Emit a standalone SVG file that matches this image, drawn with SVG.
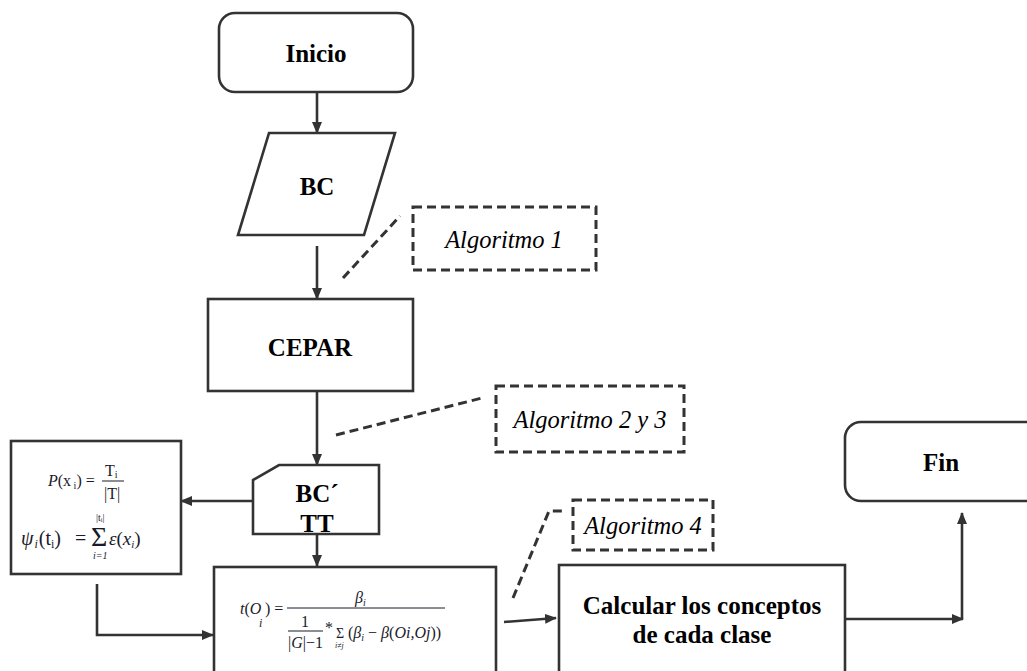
<svg xmlns="http://www.w3.org/2000/svg" width="1027" height="671" viewBox="0 0 1027 671">
<style>
.sh{fill:#fff;stroke:#333;stroke-width:2.6}
.ln{fill:none;stroke:#333;stroke-width:2.6}
.ds{fill:none;stroke:#333;stroke-width:3;stroke-dasharray:9 5}
.lb{font-family:"Liberation Serif",serif;font-weight:bold;font-size:25px;fill:#000;text-anchor:middle}
.al{font-family:"Liberation Serif",serif;font-style:italic;font-size:24.5px;fill:#000;text-anchor:middle}
.m{font-family:"Liberation Serif",serif;font-size:16px;fill:#1a1a2a}
.i{font-style:italic}
.s{font-size:10px}
</style>
<defs>
<marker id="ah" markerWidth="12" markerHeight="10" refX="11" refY="5" orient="auto" markerUnits="userSpaceOnUse">
<path d="M0,0 L12,5 L0,10 Z" fill="#333"/>
</marker>
</defs>

<g id="connectors">
<line class="ln" x1="317" y1="92" x2="317" y2="133" marker-end="url(#ah)"/>
<line class="ln" x1="317" y1="246" x2="317" y2="299" marker-end="url(#ah)"/>
<line class="ln" x1="317" y1="391" x2="317" y2="465" marker-end="url(#ah)"/>
<line class="ln" x1="253" y1="501" x2="181" y2="501" marker-end="url(#ah)"/>
<line class="ln" x1="317" y1="534" x2="317" y2="566" marker-end="url(#ah)"/>
<polyline class="ln" points="97,584 97,635 213,635" marker-end="url(#ah)"/>
<line class="ln" x1="504" y1="622" x2="556" y2="618" marker-end="url(#ah)"/>
<line class="ln" x1="845" y1="619" x2="963" y2="619" marker-end="url(#ah)"/>
<line class="ln" x1="962" y1="619" x2="962" y2="513" marker-end="url(#ah)"/>
<line class="ds" x1="343" y1="278" x2="400" y2="216"/>
<line class="ds" x1="336" y1="435" x2="482" y2="398"/>
<polyline class="ds" points="513,598 549,511 562,511"/>
</g>

<g id="inicio">
<rect class="sh" x="219" y="13" width="194" height="79" rx="16"/>
<text class="lb" x="316" y="62">Inicio</text>
</g>

<g id="bc">
<polygon class="sh" points="269,133 395,133 364,235 238,235"/>
<text class="lb" x="317" y="195">BC</text>
</g>

<g id="cepar">
<rect class="sh" x="208" y="299" width="205" height="92"/>
<text class="lb" x="310" y="356">CEPAR</text>
</g>

<g id="bctt">
<polygon class="sh" points="279,465 379,465 379,534 253,534 253,480"/>
<text class="lb" x="317" y="502">BC´</text>
<text class="lb" x="317" y="532">TT</text>
</g>

<g id="alg1">
<rect class="ds" x="413" y="207" width="183" height="63"/>
<text class="al" x="504" y="248">Algoritmo 1</text>
</g>

<g id="alg23">
<rect class="ds" x="496" y="386" width="188" height="66"/>
<text class="al" x="590" y="428">Algoritmo 2 y 3</text>
</g>

<g id="alg4">
<rect class="ds" x="573" y="500" width="140" height="50"/>
<text class="al" x="643" y="534">Algoritmo 4</text>
</g>

<g id="formulas1">
<rect class="sh" x="11" y="441" width="170" height="133"/>
<text class="m" y="486"><tspan x="48" class="i">P</tspan><tspan>(x</tspan><tspan class="s" dy="3"> i</tspan><tspan dy="-3">) =</tspan></text>
<text class="m" y="476"><tspan x="105">T</tspan><tspan class="s" dy="2">i</tspan></text>
<line x1="102" y1="481" x2="124" y2="481" stroke="#1a1a2a" stroke-width="1"/>
<text class="m" x="104" y="499">|T|</text>
<text class="m" y="545" style="font-size:20px"><tspan x="21" class="i">ψ</tspan><tspan class="i" dx="1" dy="3" style="font-size:12px">i</tspan><tspan dx="1" dy="-3">(t</tspan><tspan dy="3" style="font-size:12px">i</tspan><tspan dy="-3">)</tspan><tspan x="75">=</tspan></text>
<text class="m" x="91" y="546" style="font-size:28px">Σ</text>
<text class="m s" x="96" y="521">|tᵢ|</text>
<text class="m s i" x="93" y="559">i=1</text>
<text class="m" y="545" style="font-size:19px"><tspan x="109" class="i">ε</tspan><tspan>(</tspan><tspan class="i">x</tspan><tspan class="i" dy="3" style="font-size:11px">i</tspan><tspan dy="-3">)</tspan></text>
</g>

<g id="formula2">
<rect class="sh" x="214" y="567" width="282" height="110"/>
<text class="m" y="614"><tspan x="240" class="i">t</tspan><tspan>(</tspan><tspan class="i">O</tspan></text>
<text class="m i" x="259" y="627" style="font-size:12px">i</text>
<text class="m" x="265" y="614">) =</text>
<text class="m" y="603"><tspan x="355" class="i">β</tspan><tspan class="s i" dy="3">i</tspan></text>
<line x1="287" y1="608" x2="445" y2="608" stroke="#1a1a2a" stroke-width="1"/>
<text class="m" x="301" y="627">1</text>
<line x1="288" y1="631" x2="323" y2="631" stroke="#1a1a2a" stroke-width="1"/>
<text class="m" y="648"><tspan x="288">|</tspan><tspan class="i">G</tspan><tspan>|−1</tspan></text>
<text class="m" x="325" y="633">*</text>
<text class="m" x="336" y="638" style="font-size:14px">Σ</text>
<text class="m i" x="335" y="648" style="font-size:8px">i≠j</text>
<text class="m" y="638"><tspan x="348">(</tspan><tspan class="i">β</tspan><tspan class="s i" dy="3">i</tspan><tspan dy="-3"> − </tspan><tspan class="i">β</tspan><tspan>(</tspan><tspan class="i">Oi,Oj</tspan><tspan>))</tspan></text>
</g>

<g id="calcular">
<rect class="sh" x="559" y="565" width="286" height="112"/>
<text class="lb" x="702" y="614">Calcular los conceptos</text>
<text class="lb" x="702" y="643">de cada clase</text>
</g>

<g id="fin">
<rect class="sh" x="845" y="422" width="200" height="79" rx="16"/>
<text class="lb" x="941" y="471">Fin</text>
</g>
</svg>
